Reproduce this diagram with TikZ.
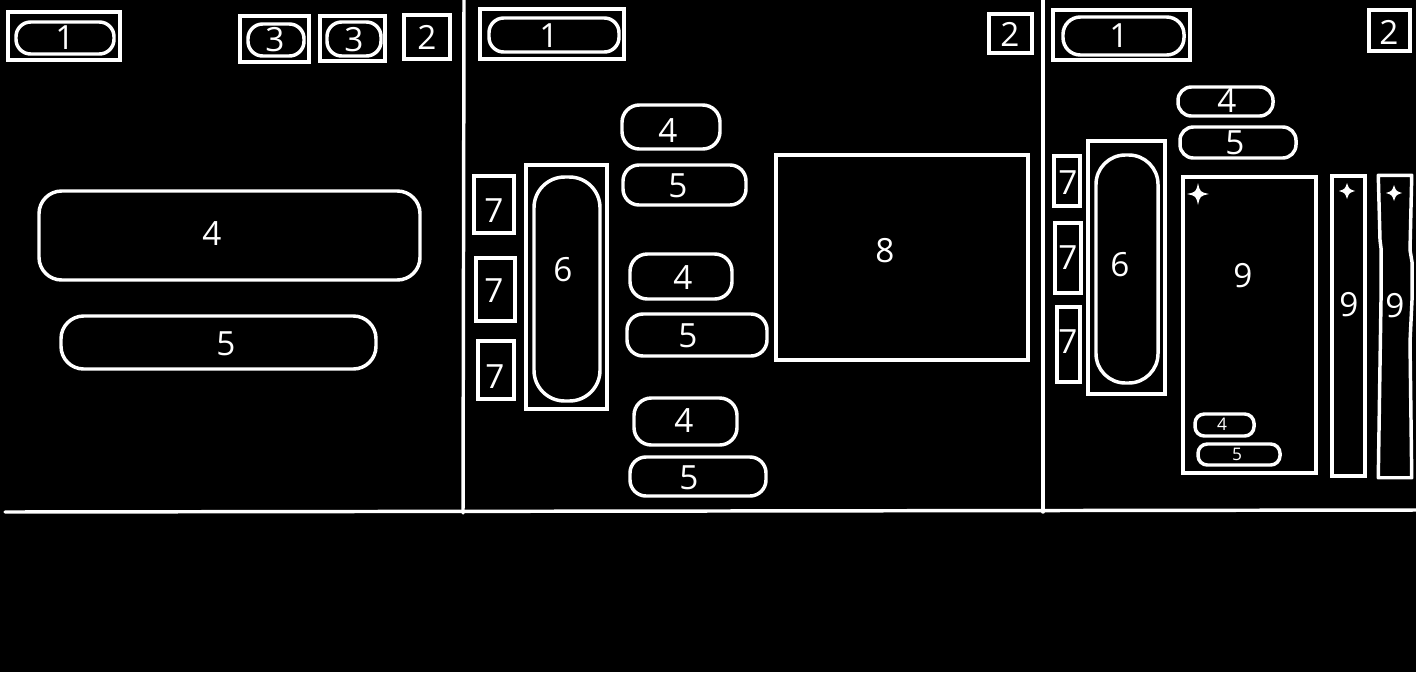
\documentclass[tikz,border=0pt]{standalone}
\usepackage{fontspec}
\setmainfont{Open Sans}
\usetikzlibrary{fit}
\begin{document}
\begin{tikzpicture}[x=0.75pt,y=-0.75pt,
  line width=2.6pt, every node/.style={text=white},
  box/.style={draw=white, rectangle, inner sep=0pt, line width=2.6pt},
  rbox/.style={box, rounded corners=#1},
  rbox/.default=10pt,
  lbl/.style={font=\fontsize{25}{25}\selectfont, inner sep=0pt},
  slbl/.style={font=\fontsize{13}{13}\selectfont, inner sep=0pt},
  spark/.pic={\fill[white] (0,-#1) .. controls (2,-2) .. (#1,0) .. controls (2,2) .. (0,#1) .. controls (-2,2) .. (-#1,0) .. controls (-2,-2) .. (0,-#1);},
  divider/.style={draw=white, line width=2.6pt, line cap=round}]
\fill[black] (0,0) rectangle (1416,672);
\useasboundingbox (0,0) rectangle (1416,672);

% dividers
\coordinate (hl) at (5,512);
\coordinate (hr) at (1416,510);
\coordinate (v1t) at (464,0);
\coordinate (v1b) at (463,513);
\coordinate (v2t) at (1043,0);
\coordinate (v2b) at (1043,512);
\draw[divider] (hl) -- (hr);
\draw[divider] (v1t) -- (v1b);
\draw[divider] (v2t) -- (v2b);

% ---------- panel 1 ----------
\node[box, fit={(8,12)(120,60)}] (p1o1) {};
\node[rbox=11pt, fit={(16,22)(114,54)}] (p1i1) {};
\node[lbl] (p1t1) at (65,38) {1};
\node[box, fit={(240,16)(309,62)}] (p1o3a) {};
\node[rbox=11pt, fit={(248,24)(304,56)}] (p1i3a) {};
\node[lbl] (p1t3a) at (275,40) {3};
\node[box, fit={(320,16)(385,61)}] (p1o3b) {};
\node[rbox=11pt, fit={(327,22)(381,56)}] (p1i3b) {};
\node[lbl] (p1t3b) at (354,40) {3};
\node[box, fit={(404,15)(450,59)}] (p1b2) {};
\node[lbl] (p1t2) at (427,37) {2};
\node[rbox=17pt, fit={(39,191)(420,280)}] (p1n4) {};
\node[lbl] (p1t4) at (212,234) {4};
\node[rbox=17pt, fit={(61,316)(376,369)}] (p1n5) {};
\node[lbl] (p1t5) at (226,344) {5};

% ---------- panel 2 ----------
\node[box, fit={(480,9)(624,59)}] (p2o1) {};
\node[rbox=11pt, fit={(489,18)(619,52)}] (p2i1) {};
\node[lbl] (p2t1) at (549,36) {1};
\node[box, fit={(989,14)(1032,53)}] (p2b2) {};
\node[lbl] (p2t2) at (1010,34) {2};
\node[rbox=13pt, fit={(622,105)(720,149)}] (p2a4) {};
\node[lbl] (p2ta4) at (668,131) {4};
\node[rbox=12pt, fit={(623,165)(746,205)}] (p2a5) {};
\node[lbl] (p2ta5) at (678,186) {5};
\node[rbox=13pt, fit={(630,254)(732,299)}] (p2b4) {};
\node[lbl] (p2tb4) at (683,278) {4};
\node[rbox=12pt, fit={(627,314)(767,356)}] (p2b5) {};
\node[lbl] (p2tb5) at (688,336) {5};
\node[rbox=13pt, fit={(634,398)(737,445)}] (p2c4) {};
\node[lbl] (p2tc4) at (684,421) {4};
\node[rbox=12pt, fit={(630,457)(766,496)}] (p2c5) {};
\node[lbl] (p2tc5) at (689,478) {5};
\node[box, fit={(474,176)(514,233)}] (p2s7a) {};
\node[lbl] (p2t7a) at (494,211) {7};
\node[box, fit={(476,258)(515,321)}] (p2s7b) {};
\node[lbl] (p2t7b) at (494,291) {7};
\node[box, fit={(478,341)(514,399)}] (p2s7c) {};
\node[lbl] (p2t7c) at (495,377) {7};
\node[box, fit={(526,165)(607,409)}] (p2o6) {};
\node[rbox=23pt, fit={(534,177)(600,401)}] (p2i6) {};
\node[lbl] (p2t6) at (563,270) {6};
\node[box, fit={(776,155)(1028,360)}] (p2n8) {};
\node[lbl] (p2t8) at (885,251) {8};

% ---------- panel 3 ----------
\node[box, fit={(1053,10)(1190,60)}] (p3o1) {};
\node[rbox=13pt, fit={(1063,17)(1184,55)}] (p3i1) {};
\node[lbl] (p3t1) at (1119,36) {1};
\node[box, fit={(1369,10)(1410,51)}] (p3b2) {};
\node[lbl] (p3t2) at (1389,32) {2};
\node[rbox=10pt, fit={(1178,87)(1273,116)}] (p3n4) {};
\node[lbl] (p3t4) at (1227,101) {4};
\node[rbox=10pt, fit={(1180,127)(1296,158)}] (p3n5) {};
\node[lbl] (p3t5) at (1235,143) {5};
\node[box, fit={(1054,156)(1080,206)}] (p3s7a) {};
\node[lbl] (p3t7a) at (1068,183) {7};
\node[box, fit={(1055,223)(1081,293)}] (p3s7b) {};
\node[lbl] (p3t7b) at (1068,258) {7};
\node[box, fit={(1057,307)(1080,382)}] (p3s7c) {};
\node[lbl] (p3t7c) at (1068,342) {7};
\node[box, fit={(1088,141)(1165,394)}] (p3o6) {};
\node[rbox=22pt, fit={(1096,155)(1158,383)}] (p3i6) {};
\node[lbl] (p3t6) at (1120,265) {6};
\node[box, fit={(1183,177)(1316,473)}] (p3n9a) {};
\node[lbl] (p3t9a) at (1243,276) {9};
\pic at (1198,194) {spark=11};
\node[rbox=7pt, fit={(1195,414)(1254,436)}] (p3m4) {};
\node[slbl] (p3tm4) at (1222,424) {4};
\node[rbox=7pt, fit={(1198,444)(1280,465)}] (p3m5) {};
\node[slbl] (p3tm5) at (1237,454) {5};
\node[box, fit={(1332,176)(1365,476)}] (p3n9b) {};
\node[lbl] (p3t9b) at (1349,305) {9};
\pic at (1347,191) {spark=8};
\node[fit={(1380,177)(1410,476)}, inner sep=0pt] (p3n9c) {};
\draw[white, line width=2.6pt, line join=round]
  (p3n9c.north west) -- (p3n9c.north east) -- (1410,250) -- (1412,262) -- (1412,300) -- (1410,342) -- (p3n9c.south east)
  -- (p3n9c.south west) -- (1381,300) -- (1381,248) -- (1380,240) -- cycle;
\node[lbl] (p3t9c) at (1395,306) {9};
\pic at (1394,193) {spark=8};
\end{tikzpicture}
\end{document}
